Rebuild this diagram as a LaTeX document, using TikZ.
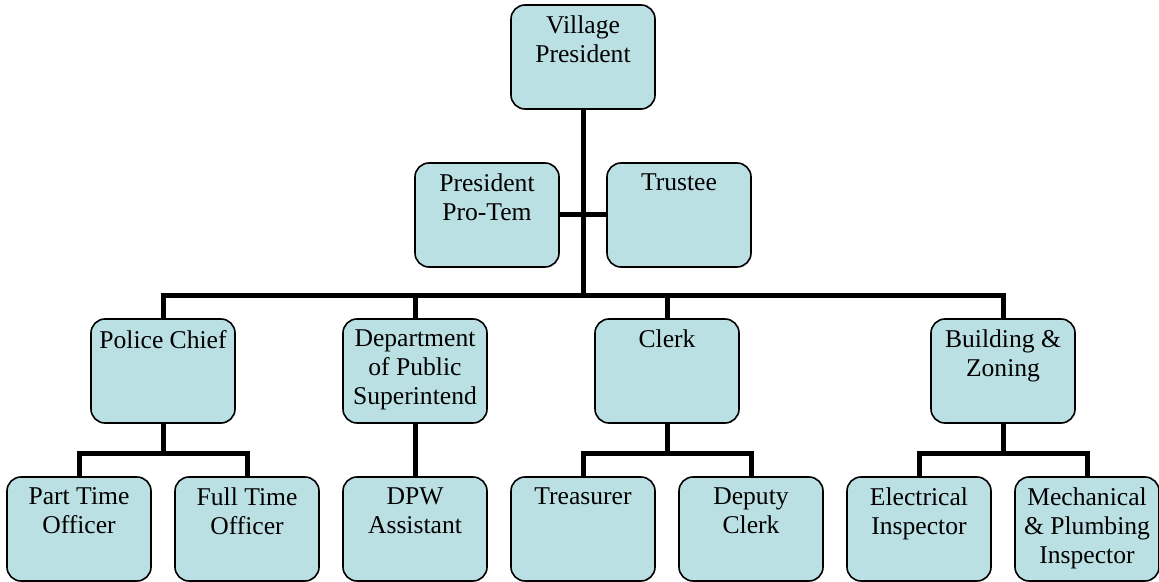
\documentclass[tikz,border=0pt]{standalone}
\usepackage{fontspec}
\setmainfont{Liberation Serif}
\usetikzlibrary{positioning}
\usepackage{xcolor}
\definecolor{unitfill}{RGB}{187,224,227}
\newcommand{\unittext}[1]{\parbox[t][41pt][t]{64pt}{\centering #1}}

\begin{document}
\begin{tikzpicture}[x=0.5pt, y=-0.5pt]
\tikzset{
  every unit/.style={draw, line width=0.8pt, fill=unitfill, rounded corners=7pt,
    minimum width=72pt, minimum height=52pt, inner xsep=4pt, inner ysep=5.5pt,
    font=\fontsize{12.8}{14.5}\selectfont},
  link/.style={line width=2.5pt}
}
\useasboundingbox (0,0) rectangle (1159,582);

% Board
\node [every unit] (pres) at (583,57) {\unittext{Village\\President}};
\node [every unit] (protem) at (487,215) {\unittext{President\\Pro-Tem}};
\node [every unit] (trustee) at (679,215) {\unittext{Trustee}};

% Department heads
\foreach \m/\t/\x in {police/{Police Chief}/163, dept/{Department\\of Public\\Superintend}/415,
                      clerk/{Clerk}/667, building/{Building \&\\Zoning}/1003}
  \node [every unit] (\m) at (\x,371) {\unittext{\t}};

% Staff
\foreach \m/\t [count=\i] in {parttime/{Part Time\\Officer}, fulltime/{Full Time\\Officer},
                              dpw/{DPW\\Assistant}, treasurer/{Treasurer}, deputy/{Deputy\\Clerk},
                              electrical/{Electrical\\Inspector}, mechanical/{Mechanical\\\& Plumbing\\Inspector}}
  \node [every unit] (\m) at (79+168*\i-168,529) {\unittext{\t}};

% Board connections
\coordinate (bus) at (583,295);
\draw [link] (pres) -- (bus);
\draw [link] (protem) -- (trustee);

% Board to department heads
\draw [link] (police.north) |- (bus) -| (building.north);
\foreach \m in {dept,clerk}
  \draw [link] (\m.north) -- (\m.north |- bus);

% Department heads to staff
\coordinate (sub) at (0,453);
\foreach \h/\a/\b in {police/parttime/fulltime, clerk/treasurer/deputy, building/electrical/mechanical} {
  \draw [link] (\h.south) -- (\h.south |- sub);
  \draw [link] (\a.north) |- (\h.south |- sub) -| (\b.north);
}
\draw [link] (dept) -- (dpw);

\end{tikzpicture}
\end{document}
